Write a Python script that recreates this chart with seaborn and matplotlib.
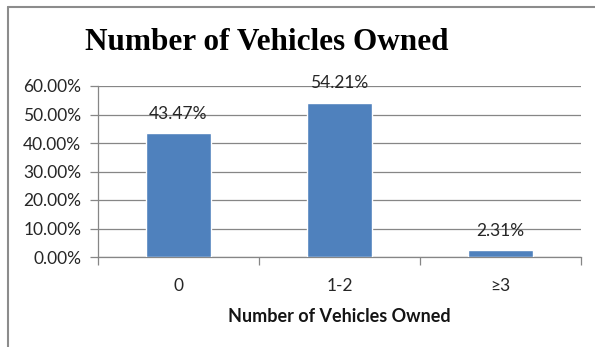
import matplotlib
matplotlib.use("Agg")
import matplotlib.pyplot as plt
from matplotlib.lines import Line2D
from matplotlib.ticker import FixedLocator, PercentFormatter
import seaborn as sns

categories = ["0", "1-2", "≥3"]
shares = [43.47, 54.21, 2.31]
y_ticks = [0, 10, 20, 30, 40, 50, 60]

sns.set_theme(style="white")
plt.rcParams["font.family"] = ["Lato", "DejaVu Sans"]

W, H = 595, 347
fig = plt.figure(figsize=(W / 100, H / 100), dpi=100)
ax = fig.add_axes([98 / W, (H - 257) / H, (581 - 98) / W, (257 - 86) / H])

grid_c = "#868686"
text_c = "#262626"
fs = 12.5

sns.barplot(x=categories, y=shares, color="#4F81BD", saturation=1,
            width=0.4, ax=ax, zorder=3)

ax.set_xlim(-0.5, 2.5)
ax.set_ylim(0, 60)
ax.yaxis.set_major_locator(FixedLocator(y_ticks))
ax.yaxis.set_major_formatter(PercentFormatter(decimals=2))
ax.grid(axis="y", color=grid_c, linewidth=0.9, zorder=0)
ax.set_axisbelow(True)

for side in ["top", "right"]:
    ax.spines[side].set_visible(False)
for side in ["left", "bottom"]:
    ax.spines[side].set_color(grid_c)
    ax.spines[side].set_linewidth(0.9)

ax.tick_params(axis="y", which="major", left=True, length=6, width=0.9,
               color=grid_c, labelsize=fs, labelcolor=text_c, pad=6)
ax.tick_params(axis="x", which="major", length=0, labelsize=fs,
               labelcolor=text_c, pad=15)
ax.xaxis.set_minor_locator(FixedLocator([-0.5, 0.5, 1.5, 2.5]))
ax.tick_params(axis="x", which="minor", bottom=True, length=6, width=0.9,
               color=grid_c)

for i, v in enumerate(shares):
    ax.text(i, v + 4.0, f"{v:.2f}%", ha="center", va="bottom",
            fontsize=fs, color=text_c)

ax.set_xlabel("Number of Vehicles Owned", fontsize=13, fontweight="bold",
              color="#141414", labelpad=10)
ax.set_ylabel("")

fig.text(267 / W, 1 - 42 / H, "Number of Vehicles Owned",
         ha="center", va="center", fontsize=22.5, fontweight="bold",
         family=["Liberation Serif", "DejaVu Serif"], color="black")

# chart frame (top and left edges)
fig.add_artist(Line2D([8 / W, 1], [1 - 6.5 / H, 1 - 6.5 / H],
                      transform=fig.transFigure, color="#8c8c8c", lw=1.5))
fig.add_artist(Line2D([8 / W, 8 / W], [0, 1 - 6.5 / H],
                      transform=fig.transFigure, color="#8c8c8c", lw=1.5))

fig.savefig("out.png", dpi=100, facecolor="white")
